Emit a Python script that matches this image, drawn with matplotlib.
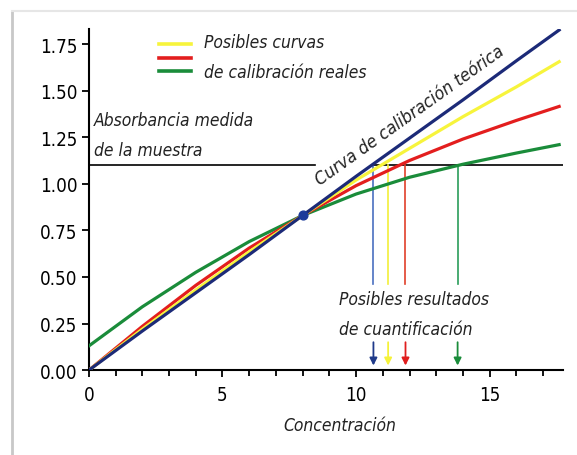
import numpy as np
import matplotlib
matplotlib.use("Agg")
import matplotlib.pyplot as plt
from matplotlib.lines import Line2D

# datos
conc = [0, 2, 4, 6, 8, 10, 12, 14, 16, 17.6]
teorica = [0, 0.21, 0.415, 0.62, 0.83, 1.04, 1.245, 1.45, 1.66, 1.825]
amarilla = [0, 0.22, 0.43, 0.635, 0.83, 1.02, 1.19, 1.36, 1.52, 1.655]
roja = [0, 0.235, 0.455, 0.655, 0.83, 0.99, 1.125, 1.24, 1.34, 1.415]
verde = [0.13, 0.34, 0.525, 0.69, 0.83, 0.945, 1.035, 1.105, 1.165, 1.21]

abs_muestra = 1.1
resultados = [10.65, 11.2, 11.85, 13.8]
colores_res = ["#4a6fc0", "#f2ef3a", "#e0402a", "#2a9d5a"]
colores_arrow = ["#1f3a8a", "#f5f23a", "#e01e1e", "#1a8c3a"]

plt.rcParams["font.family"] = ["DejaVu Sans"]
plt.rcParams["font.stretch"] = "condensed"

fig = plt.figure(figsize=(5.77, 4.56), dpi=100)
ax = fig.add_axes([0.154, 0.186, 0.822, 0.748])

# curvas
ax.plot(conc, verde, color="#1a8c3a", lw=2.3, zorder=3)
ax.plot(conc, roja, color="#e31e1e", lw=2.3, zorder=3)
ax.plot(conc, amarilla, color="#f7f43c", lw=2.3, zorder=3)
ax.plot(conc, teorica, color="#1c2a78", lw=2.3, zorder=4)
ax.scatter([8], [0.83], color="#1c3a9a", s=40, zorder=5)

# absorbancia medida
ax.plot([0, 8.45], [abs_muestra, abs_muestra], color="black", lw=1.2, zorder=2)
ax.plot([resultados[0], 17.75], [abs_muestra, abs_muestra], color="black", lw=1.2, zorder=2)

# lineas verticales y flechas
for xr, c, ca in zip(resultados, colores_res, colores_arrow):
    ax.plot([xr, xr], [abs_muestra, 0.46], color=c, lw=1.2, zorder=2)
    ax.annotate("", xy=(xr, 0.025), xytext=(xr, 0.15),
                arrowprops=dict(arrowstyle="-|>", color=ca, lw=1.3,
                                mutation_scale=11, shrinkA=0, shrinkB=0))

# leyenda manual
for yl, c in zip([0.955, 0.915, 0.876], ["#f7f43c", "#e31e1e", "#1a8c3a"]):
    ax.add_line(Line2D([0.148, 0.216], [yl, yl], transform=ax.transAxes,
                       color=c, lw=2.6))
ax.text(0.243, 0.988, "Posibles curvas\nde calibración reales", transform=ax.transAxes,
        fontsize=12.5, style="italic", va="top", ha="left", linespacing=1.85, color="#222222")

ax.text(0.2, 1.39, "Absorbancia medida\nde la muestra", fontsize=12.5, style="italic",
        va="top", ha="left", linespacing=1.85, color="#222222")
ax.text(12.0, 1.37, "Curva de calibración teórica", fontsize=13, style="italic",
        rotation=35.5, rotation_mode="anchor", ha="center", va="center", color="#222222")
ax.text(9.35, 0.43, "Posibles resultados\nde cuantificación", fontsize=12.5, style="italic",
        va="top", ha="left", linespacing=1.85, color="#222222")

# ejes
ax.set_xlim(0, 17.75)
ax.set_ylim(0, 1.83)
ax.spines["top"].set_visible(False)
ax.spines["right"].set_visible(False)
ax.spines["left"].set_linewidth(1.5)
ax.spines["bottom"].set_linewidth(1.5)
ax.set_xticks([0, 5, 10, 15])
ax.set_xticks(np.arange(0, 18, 1), minor=True)
ax.set_yticks([0, 0.25, 0.5, 0.75, 1.0, 1.25, 1.5, 1.75])
ax.set_yticklabels(["0.00", "0.25", "0.50", "0.75", "1.00", "1.25", "1.50", "1.75"])
ax.tick_params(axis="both", which="major", direction="out", length=5, width=1.3,
               labelsize=13.5, pad=3)
ax.tick_params(axis="x", which="major", pad=6)
ax.tick_params(axis="x", which="minor", direction="out", length=4, width=1.3)
ax.set_xlabel("Concentración", fontsize=12.5, style="italic", color="#222222")
ax.xaxis.set_label_coords(0.53, -0.135)

# marco de la imagen
fig.add_artist(Line2D([0.021, 0.021], [0, 0.974], transform=fig.transFigure,
                      color="#c8c8c8", lw=2))
fig.add_artist(Line2D([0.021, 1.0], [0.974, 0.974], transform=fig.transFigure,
                      color="#e6e6e6", lw=1.5))

fig.savefig("out.png", dpi=100)
